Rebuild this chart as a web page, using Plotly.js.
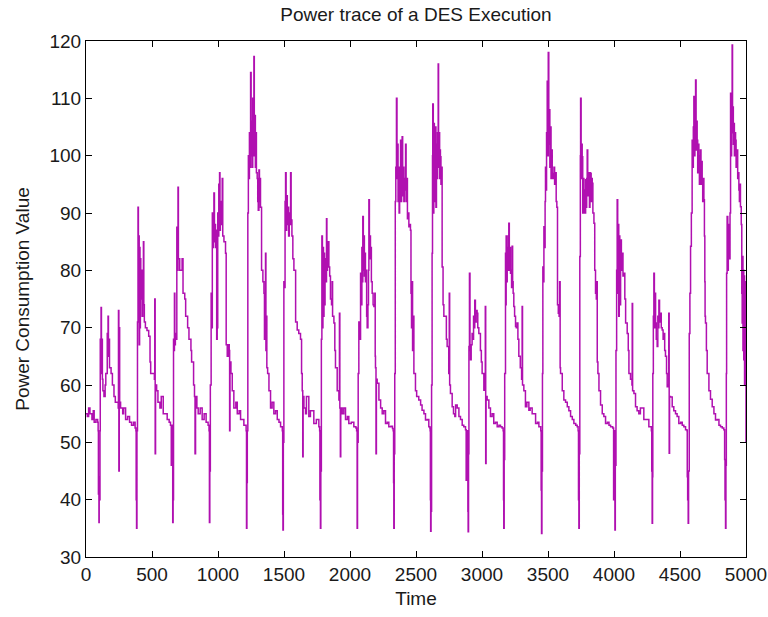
<!DOCTYPE html>
<html>
<head>
<meta charset="utf-8">
<script src="https://cdn.plot.ly/plotly-3.0.1.min.js"></script>
<style>
  html, body { margin: 0; padding: 0; background: #ffffff; }
  #chart { width: 768px; height: 617px; }
</style>
</head>
<body>
<div id="chart"></div>
<script>
// ---- Data (time, power) ----
const timeA = [
  0,10,20,30,45,55,62,75,88,
  92,94,96,98,100,102,
  106,108,111,114,117,120,124,
  128,136,145,150,
  158,161,164,167,170,173,
  178,190,200,212,222,
  240,244,246,249,252,255,
  262,278,285,300,315,330,345,360,372,
  378,380,383,386,
  390,394,397,400,403,406,409,412,415,420,425,430,435,438,442,
  450,462,475,485,490,
  518,521,524,527,
  535,545,560,570,585,600,615,630,640,
  646,649,654,657,660,
  663,667,670,673,677,682,688,692,697,700,
  710,728,735,748,755,770,780,795,800,815,822,
  826,830
];
const powerA = [
  55,54.5,56,55,54,55.5,53.5,54,53.5,
  52,41,44,36,42,40,
  52,68,62,73.5,64,68,61,
  59,58,60,62,
  62,69,65,72,66,68,
  63,62,60,58,57,
  57,56,73,45,70,57,
  56,55,56,54,54.5,53.5,53,53.5,52.5,
  52,40,35,52,
  71,91,72,86,67,84,70,82,75,80,72,78,85,74,71,
  70,69.5,68.5,64,62,
  61,75,48,60,
  59,57,56,58,55,55,54,53.5,53,
  46,53,52,36,40,
  68,66,76,67,69,68,87.5,80,94.5,82,
  80,82,76,75,72,70,68,66,64,60,58,
  48,58
];

const timeB = [
  840,850,865,880,895,910,925,
  932,935,938,
  942,948,953,957,961,965,969,973,977,981,985,
  990,994,
  998,1002,1006,1009,1012,1015,1018,1022,
  1028,1032,1036,
  1045,1057,
  1062,1070,1078,1085,1088,1091,
  1098,1108,
  1120,1135,1146,1160,1171,1185,1196,1208,
  1213,1216,1219,1222,
  1226,1230,1234,1238,1242,1247,1251,1255,1259,1263,1267,1272,
  1275,1279,1283,1287,1291,1297,1301,1305,1310,1314,1318,1322,
  1330,1340,1348,1352,1356,1360,1363,1366,1370,
  1376,1386,1398,1410,1423,1436,1449,1462,1474,
  1487,1490,1492,1495,
  1499,1504,1508,1512,1516,1520,1525,1530,1535,1540,1546,1550,1554,1560,
  1567,1575,1588,1600,1612,1625,1633,1638,1642,1645,1651,1663
];
const powerB = [
  56,55,56,54,55,53.5,53,
  52,36,45,
  60,76,70,90,84,89,93.5,85,88,84,87,
  68,70,
  90,86,95,88,97,87,92,88,
  92,96,86,
  85,83,
  67,65,67,66,52,64,
  62,59,
  56,57,55,55.5,54,54,53,53,
  52,35,43,52,
  90,100,96,104,98,114.5,100,106,98,110,100,117.3,
  101,107,98,104,97,96,92,90.5,97.5,92,96,91,
  80,78,76,68,75,83,66,72,63,
  62,59,56,57,55,55.5,54,53.5,52.7,
  52,37.5,34.7,50,
  78,77,92,97,87,93,88,91,86,90,88,97,88.8,86,
  82,80,71,69.6,69,68,62,59,47.5,58,56,55
];

const timeC = [
  1670,1688,1700,1726,1745,1764,
  1770,1772,1776,1779,
  1783,1787,1791,1795,1799,1803,1807,1811,1815,1822,1825,1829,
  1840,1846,1852,1860,1865,1868,1878,1885,1890,1903,1916,1920,
  1923,1927,1930,1941,1953,1966,1980,1991,2010,2029,2045,
  2050,2054,2057,
  2062,2067,2073,2080,2085,2090,2094,2097,2101,2105,2109,2112,
  2117,2122,2126,2130,2136,2140,2143,2147,2151,2155,2162,2168,
  2175,2181,2188,2191,2193,2197,2200,2206,2219,2232,2244,2256,
  2269,2282,2294,2310,2322,
  2327,2330,2332,2335,
  2339,2343,2347,2352,2356,2360,2364,2368,2372,2376,2380,2383,
  2387,2391,2395,2399,2403,2408,2412,2416,2421,2425,2430,2435,
  2440,2446,2452,2458,2462,2466,2471,2474,2478,2484,2496
];
const powerC = [
  58,54.5,55.5,53.3,54,52.7,
  52,40,35,45,
  68,86,70,84,72,83,74,82,78,89,80,85,
  80.6,79,75,74,78,72,70.8,66,63,59,57.4,72.5,
  56,47.5,56,55,56,54,54.5,53.3,53.5,52.7,52.5,
  52,35,50,
  62,71,68,79.5,74,84,78,89.4,80,86,79,83,
  78,80,72,70,74,80,92.3,82,86,84,78,76,
  74,73.7,76,65,63,48,61,60.3,57.4,56,55,55.5,
  53.3,53.5,52.7,52.8,52.4,
  52,43,35,48,
  62,92,98,110,96,102,92,98,90,97,94,102.7,
  92,97,103.3,93,98,92,96,94,102,92,96,89,
  90,87.6,88,87,76,70,78,66,72,62,59
];

const timeD = [
  2505,2521,2535,2546,2560,2572,2585,2597,2605,
  2607,2609,2611,2614,
  2618,2622,2625,2627,2631,2635,2639,2643,2647,2651,2655,2659,
  2663,2668,2671,2675,2679,2682,2685,2689,2693,2698,2705,2711,
  2723,2730,2736,2748,2752,2755,2761,2774,2784,2794,2800,2812,
  2825,2837,2850,2862,2875,2880,2884,
  2890,2893,2895,2898,
  2901,2905,2909,2913,2918,2925,2930,2936,2940,2945,2950,2956,
  2963,2968,2976,2988,2995,3001,3014,3022,3025,3028,3031,3039,
  3052,3064,3077,3089,3102,3115,3128,3140,3152,
  3160,3163,3165,3168,
  3172,3178,3181,3183,3187,3191,3195,3199,3203,3207,
  3212,3216,3220,3224,3228,3232,3236,3241,3247,3254,
  3260,3266,3272,3279,3290,3300,3304,3307,3317,3329
];
const powerD = [
  58,57.4,56.5,55.6,55,53.9,54,52.7,52.5,
  52,40,34.5,38,
  60,83,100,109,90,105.6,92,104,105,91,102,96,
  104,116,98,104,96,101,99.8,95,98,80.6,74,72,
  72,68,66.7,62,76,60,58.5,56.2,55,54.5,56.5,56,
  54.5,54,53,52.7,52.2,43.4,52,
  50,38,34.4,48,
  66.7,79.5,66,64.4,67,69,68,72,70,74.8,71,73,
  72.5,70,69,66,64,62,59.1,60,73.7,46.3,58,57.4,
  56,54.5,55,53.3,53.5,52.7,53,52.7,52.5,
  52,40,35,47,
  62,83,74,86,78,84,80,86,88.2,80,
  84,79.5,80,77,84.2,78,76,73.7,72,70.2,
  70,70.8,68,65,63,61,73.7,60,59,56.2
];

const timeE = [
  3340,3355,3365,3380,3406,3420,3431,3440,
  3445,3448,3451,3454,
  3458,3461,3465,3469,3474,3478,3481,3485,3489,3494,
  3498,3502,3506,3510,3514,3519,3523,3527,3532,3538,
  3545,3550,3557,3562,3567,3572,3578,3584,3588,3592,
  3595,3608,3620,3633,3646,3658,3671,3684,3696,3710,3721,
  3728,3731,3734,3737,
  3741,3745,3747,3751,3755,3759,3763,3768,3772,3776,
  3781,3785,3789,3793,3797,3801,3806,3810,3814,3818,
  3822,3827,3831,3835,3840,3848,3854,3860,3866,3870,
  3873,3878,3886,3898,3911,3923,3936,3950,3962,3974,3990,
  3997,4000,4004,4007,4010,
  4015,4020,4024,4028,4032,4036,4040,4044,4050,4056,
  4062,4068,4075,4082,4088,4100,4108,4113,4125,4136,
  4138,4141,4151,4163
];
const powerE = [
  57,55.6,56,55,53.3,53.5,52.7,52.7,
  52,41.7,34.1,45,
  62,80.6,78,87.6,84,92,98,94,104,113,
  100,118,102,108,98,105,96,101,96.9,96,
  98,95,97,92,91,74,72.5,72,78,63,
  62,59,57.4,57,56.2,55.5,54.5,54,53.3,53,52.7,
  52,40,35,48,
  82.4,100,110,96,102,99.8,90,96,90,94,
  90,95.8,91,96,101,93,97,95.8,91,97,
  96.9,92,96,95.2,90,88.2,80,76,75,78,
  64,62,59,56.5,55,54.5,53.3,53.5,53,52.7,52.5,
  40,52,42,34.7,46,
  66,80,92.3,76,88,72,86,74,85.3,80,
  83,79,79.5,75,70.8,69,66,62,61,60,
  74.2,59,58.5,56.2
];

const timeF = [
  4175,4188,4200,4226,4240,4264,4277,4283,
  4286,4289,4292,
  4294,4298,4302,4306,4310,4315,4320,4327,4332,4336,
  4340,4345,4352,4358,4365,4372,4378,4384,4390,4398,
  4403,4412,4415,4418,4421,4428,4441,4453,4466,4478,
  4491,4505,4517,4529,4542,4553,
  4555,4558,4562,4565,
  4570,4575,4580,4586,4592,4597,4601,4605,4609,4613,
  4618,4622,4626,4630,4634,4638,4643,4647,4651,4655,
  4659,4663,4668,4672,4676,4681,4685,4688,4690,4693,
  4700,4706,4719,4731,4744,4757,4769,4782,4795,4807,4820,4832,
  4838,4841,4845,4848,
  4851,4853,4857,4862,4866,4870,4875,4879,4883,4887,
  4891,4895,4898,4900,4904,4908,4912,4916,4921,4925,
  4929,4933,4937,4942,4946,4950,4954,4958,4964,4968,
  4971,4974,4977,4980,4983,4986,4989,4992,4995,4997,5000
];
const powerF = [
  55.5,55,56,54,54,52.7,52.7,52,
  45,35.9,44,
  62,72,79.5,70,76,70.8,68,66.7,72,70,
  74.8,71,72.5,70,69.6,68,69,66,65,62,
  59.7,60,72.5,48.1,58,57.9,56.2,55.5,55,54.5,
  53.3,53.5,53,52.7,52.2,52,
  44,40,35.9,45,
  69,76,84.2,90,102.7,98,105,110.3,100,106,
  113.2,101,106,102.7,97,102,98.1,95,100,101,
  95,99,95.8,92,96,92.3,86,78,72,70.8,
  66,62,59,57.5,56.2,55,53.9,54,53,52.7,52.5,52.2,
  47,40,35,46,
  62,79.5,89.4,80,88,86.5,82,90,110.9,100,
  108,119.3,104,108.5,102,105.6,100,104,102.7,98,
  100,101,96,97,94,92,95,91.1,88,76,
  70.8,82.4,66,80,64.4,79,60,78,64,70,50
];

const xTickVals = [0,500,1000,1500,2000,2500,3000,3500,4000,4500,5000];
const yTickVals = [30,40,50,60,70,80,90,100,110,120];

const chartTitle = 'Power trace of a DES Execution';
const xLabel = 'Time';
const yLabel = 'Power Consumption Value';

// ---- Build trace ----
const timeAll = [].concat(timeA, timeB, timeC, timeD, timeE, timeF);
const powerAll = [].concat(powerA, powerB, powerC, powerD, powerE, powerF);

const trace = {
  type: 'scatter',
  mode: 'lines',
  x: timeAll,
  y: powerAll,
  line: { color: '#b010b0', width: 1.5, shape: 'hv' },
  hoverinfo: 'skip'
};

const axisFont = { family: 'Liberation Sans, Arial, Helvetica, sans-serif', size: 19, color: '#1a1a1a' };

const layout = {
  width: 768,
  height: 617,
  margin: { l: 86, r: 22, t: 41, b: 60, pad: 0 },
  paper_bgcolor: '#ffffff',
  plot_bgcolor: '#ffffff',
  showlegend: false,
  font: axisFont,
  title: {
    text: chartTitle,
    font: { family: axisFont.family, size: 19, color: '#1a1a1a' },
    xref: 'paper', x: 0.5, xanchor: 'center',
    yref: 'container', y: 1 - 14 / 617, yanchor: 'middle'
  },
  xaxis: {
    range: [0, 5000],
    tickmode: 'array',
    tickvals: xTickVals,
    ticktext: xTickVals.map(String),
    ticks: 'inside',
    ticklen: 6,
    tickwidth: 1,
    tickcolor: '#000',
    mirror: 'ticks',
    showline: true,
    linecolor: '#000',
    linewidth: 1,
    showgrid: false,
    zeroline: false,
    tickfont: axisFont,
    title: { text: xLabel, font: axisFont, standoff: 7 }
  },
  yaxis: {
    range: [30, 120],
    tickmode: 'array',
    tickvals: yTickVals,
    ticktext: yTickVals.map(String),
    ticks: 'inside',
    ticklen: 6,
    tickwidth: 1,
    tickcolor: '#000',
    mirror: 'ticks',
    showline: true,
    linecolor: '#000',
    linewidth: 1,
    showgrid: false,
    zeroline: false,
    tickfont: axisFont,
    title: { text: yLabel, font: axisFont, standoff: 14 }
  }
};

if (timeAll.length !== powerAll.length) {
  layout.annotations = [{ text: 'LENGTH MISMATCH ' + timeAll.length + ' vs ' + powerAll.length,
    xref: 'paper', yref: 'paper', x: 0.5, y: 0.5, showarrow: false, font: { size: 20, color: 'red' } }];
}

Plotly.newPlot('chart', [trace], layout, { displayModeBar: false, staticPlot: true });
</script>
</body>
</html>
